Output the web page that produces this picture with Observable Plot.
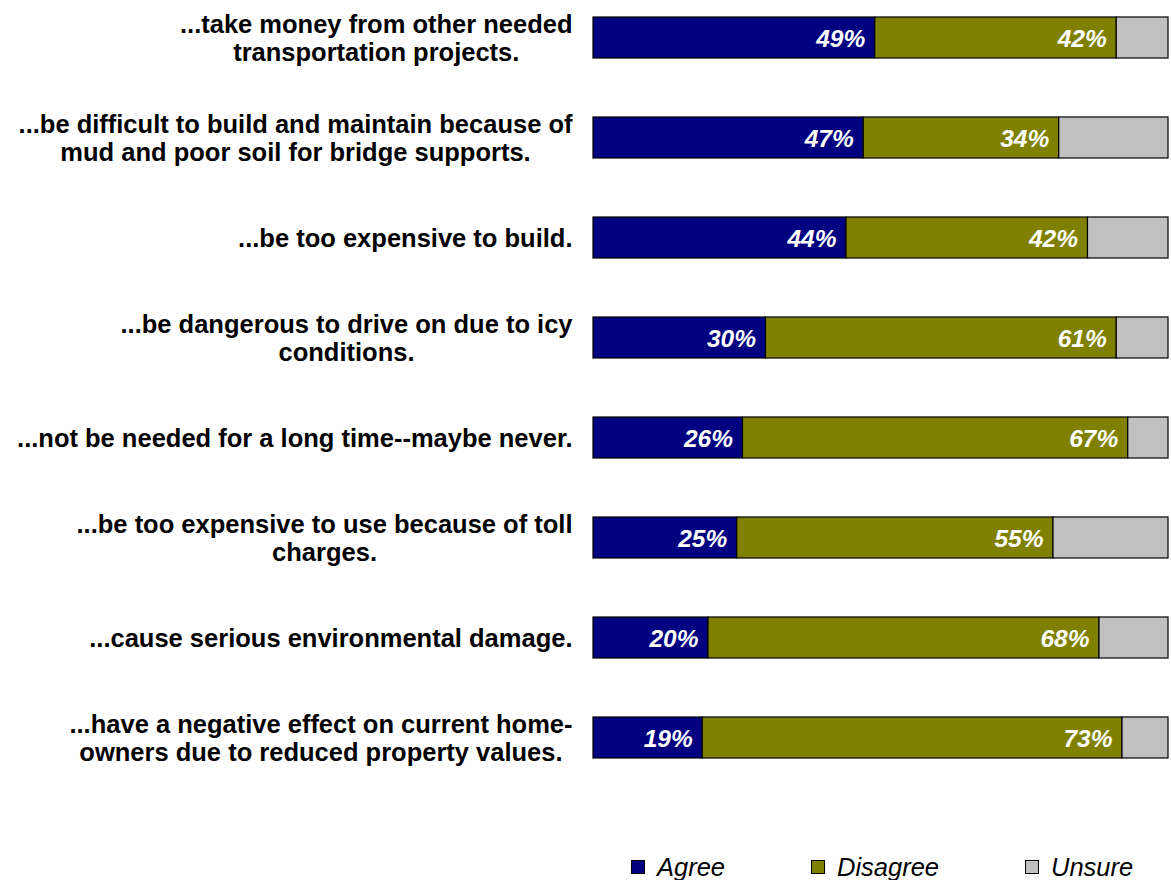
<!DOCTYPE html>
<html><head><meta charset="utf-8">
<script src="https://cdn.jsdelivr.net/npm/d3@7"></script>
<script src="https://cdn.jsdelivr.net/npm/@observablehq/plot@0.6"></script>
<style>
body{margin:0;background:#fff;font-family:"Liberation Sans",Arial,sans-serif;}
#chart{position:relative;width:1171px;height:880px;overflow:hidden;}
#chart svg{position:absolute;left:0;top:0;}
.sw{position:absolute;top:860px;width:14px;height:14px;box-sizing:border-box;border:1px solid #000;}
.lt{position:absolute;top:852px;line-height:30px;font-size:25.5px;font-style:italic;color:#000;}
</style></head><body><div id="chart"></div>
<script>
const questions = [
  "...take money from other needed\ntransportation projects.",
  "...be difficult to build and maintain because of\nmud and poor soil for bridge supports.",
  "...be too expensive to build.",
  "...be dangerous to drive on due to icy\nconditions.",
  "...not be needed for a long time--maybe never.",
  "...be too expensive to use because of toll\ncharges.",
  "...cause serious environmental damage.",
  "...have a negative effect on current home-\nowners due to reduced property values."
];
const responses = ["Agree", "Disagree", "Unsure"];
const agree = [49, 47, 44, 30, 26, 25, 20, 19];
const disagree = [42, 34, 42, 61, 67, 55, 68, 73];
const unsure = [9, 19, 14, 9, 7, 20, 12, 8];
const colors = ["#000080", "#808000", "#C0C0C0"];

const series = [agree, disagree, unsure];
const data = questions.flatMap((q, i) => responses.map((r, j) => ({question: q, response: r, value: series[j][i]})));

const chart = document.getElementById("chart");
const plot = Plot.plot({
  width: 1171, height: 790,
  marginLeft: 593, marginRight: 3, marginTop: 17, marginBottom: 29,
  style: {fontFamily: "'Liberation Sans', Arial, sans-serif", background: "#fff"},
  x: {domain: [0, 100], axis: null},
  y: {domain: questions, axis: null, paddingInner: 0.59, paddingOuter: 0, align: 0},
  color: {domain: responses, range: colors},
  marks: [
    Plot.barX(data, {x: "value", y: "question", fill: "response", stroke: "#000", strokeWidth: 1.2, order: responses}),
    Plot.text(data, Plot.stackX2({x: "value", y: "question", z: "response", order: responses,
      text: d => d.response === "Unsure" ? "" : d.value + "%",
      textAnchor: "end", dx: -10, dy: 1, fill: "white", fontWeight: "bold", fontStyle: "italic", fontSize: 24.5})),
    Plot.text(questions, {y: d => d, text: d => d, frameAnchor: "left", textAnchor: "end", dx: -21,
      fontWeight: "bold", fontSize: 25.5, lineHeight: 1.12, fill: "black"})
  ]
});
chart.appendChild(plot);

// center multi-line label blocks, right-aligned as a block
const groups = plot.querySelectorAll('g[aria-label="text"]');
const labelGroup = groups[groups.length - 1];
labelGroup.querySelectorAll("text").forEach(t => {
  const spans = t.querySelectorAll("tspan");
  if (spans.length > 1) {
    const maxw = Math.max(...Array.from(spans, s => s.getComputedTextLength()));
    t.setAttribute("text-anchor", "middle");
    t.setAttribute("y", 2.5);
    spans.forEach(s => s.setAttribute("x", -maxw / 2));
  }
});

// legend
const legendPos = [631, 811, 1025];
responses.forEach((r, i) => {
  const sw = document.createElement("div");
  sw.className = "sw";
  sw.style.left = legendPos[i] + "px";
  sw.style.background = colors[i];
  chart.appendChild(sw);
  const lt = document.createElement("div");
  lt.className = "lt";
  lt.style.left = (legendPos[i] + 26) + "px";
  lt.textContent = r;
  chart.appendChild(lt);
});
</script>
</body></html>
